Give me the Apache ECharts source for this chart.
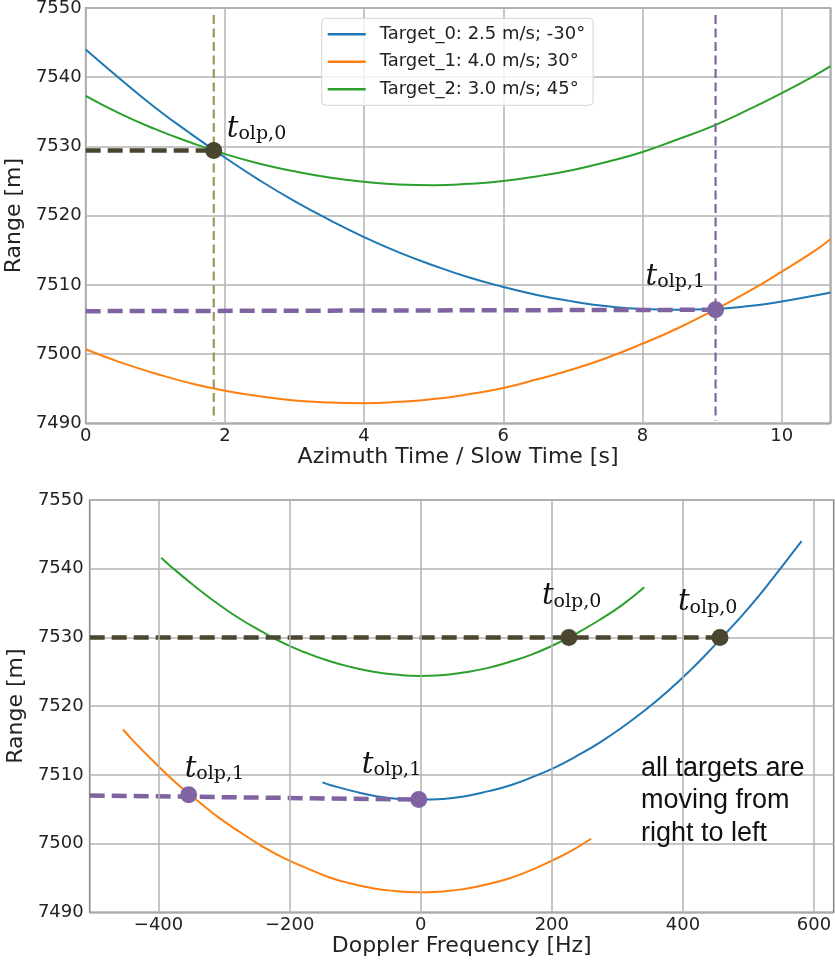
<!DOCTYPE html>
<html>
<head>
<meta charset="utf-8">
<script src="https://cdn.jsdelivr.net/npm/echarts@6/dist/echarts.min.js"></script>
<style>
html,body{margin:0;padding:0;background:#fff;}
#chart{width:835px;height:965px;}
</style>
</head>
<body>
<div id="chart"></div>
<script>
// ---------- data ----------
const tSamples = [0,0.5,1,1.5,2,2.5,3,3.5,4,4.5,5,5.5,6,6.5,7,7.5,8,8.5,9,9.5,10,10.5,10.7];
const range0 = [7544.0,7539.7,7535.6,7531.9,7528.4,7525.1,7522.1,7519.4,7516.9,7514.7,7512.8,7511.1,7509.7,7508.5,7507.6,7506.9,7506.5,7506.4,7506.5,7506.9,7507.6,7508.5,7508.9];
const range1 = [7500.7,7498.8,7497.2,7495.8,7494.7,7493.9,7493.3,7493.0,7492.9,7493.1,7493.5,7494.2,7495.1,7496.4,7497.8,7499.5,7501.5,7503.7,7506.2,7508.9,7511.9,7515.1,7516.6];
const range2 = [7537.3,7534.7,7532.5,7530.6,7528.9,7527.5,7526.4,7525.5,7524.9,7524.5,7524.4,7524.6,7525.0,7525.7,7526.6,7527.8,7529.2,7531.0,7532.9,7535.2,7537.7,7540.4,7541.6];
const doppler0 = [581,546,512,478,444,410,376,342,307,273,239,205,171,137,102,68,34,0,-34,-68,-102,-137,-150];
const doppler1 = [260,227,193,160,127,93,60,27,-7,-40,-73,-107,-140,-173,-207,-240,-273,-307,-340,-374,-407,-440,-454];
const doppler2 = [341,307,272,238,203,169,134,100,65,31,-3,-38,-72,-107,-141,-176,-210,-245,-279,-314,-348,-382,-396];
const seriesNames = ['Target_0: 2.5 m/s; -30°','Target_1: 4.0 m/s; 30°','Target_2: 3.0 m/s; 45°'];

// overlap points
const olpTopT = [1.84, 9.05];
const olpTopR = [7529.4, 7506.4];
const olpBotF = [226, 456.5, -354, -3];
const olpBotR = [7530.0, 7530.0, 7507.1, 7506.4];
const olpBotIdx = ['0','0','1','1'];
// guide lines
const topH0 = [[0,7529.4],[1.84,7529.4]];
const topV0 = [[1.84,7549.0],[1.84,7490.4]];
const topH1 = [[0,7506.2],[9.05,7506.4]];
const topV1 = [[9.05,7549.0],[9.05,7490.4]];
const botH0 = [[-505,7530.0],[456.5,7530.0]];
const botH1 = [[-505,7507.0],[-3,7506.4]];
// axis ranges / ticks
const topX = {min:0, max:10.7, step:2};
const botX = {min:-505, max:630};
const botXTicks = [-400,-200,0,200,400,600];
const yRange = {min:7490, max:7550, step:10};
const annotation = 'all targets are\nmoving from\nright to left';

// ---------- styles ----------
const colors = ['#1f77b4','#ff7f0e','#2ca02c'];
const darkOlive = '#4a452f';
const lightOlive = '#9e965d';
const purple = '#8064a2';
const gridColor = '#b3b3b3';
const font = 'DejaVu Sans';

const chart = echarts.init(document.getElementById('chart'), null, {renderer:'canvas'});

function fmtStep(step){
  return function(v){
    const r = v / step;
    if (Math.abs(r - Math.round(r)) > 1e-6) return '';
    return String(Math.round(v)).replace('-', '\u2212');
  };
}
function fmtPlain(v){ return String(Math.round(v)).replace('-', '\u2212'); }
const labelBase = {fontFamily:font, fontSize:18, color:'#222'};

const xTop = {
  gridIndex:0, type:'value', min:topX.min, max:topX.max, interval:topX.step,
  name:'Azimuth Time / Slow Time [s]', nameLocation:'middle', nameGap:23,
  nameTextStyle:{fontFamily:font, fontSize:22, color:'#222'},
  axisLine:{show:false}, axisTick:{show:false},
  axisLabel:Object.assign({formatter:fmtStep(topX.step), margin:4}, labelBase),
  splitLine:{show:true, lineStyle:{color:gridColor, width:1.5}}
};
const xBot = {
  gridIndex:1, type:'value', min:botX.min, max:botX.max,
  name:'Doppler Frequency [Hz]', nameLocation:'middle', nameGap:21,
  nameTextStyle:{fontFamily:font, fontSize:22, color:'#222'},
  axisLine:{show:false}, axisTick:{show:false},
  axisLabel:Object.assign({formatter:fmtPlain, margin:4, customValues:botXTicks}, labelBase),
  splitLine:{show:false}
};
function yAxisCfg(gi, gap, margin){
  return {
    gridIndex: gi, type:'value', min:yRange.min, max:yRange.max, interval:yRange.step,
    name:'Range [m]', nameLocation:'middle', nameGap: gap,
    nameTextStyle:{fontFamily:font, fontSize:22, color:'#222'},
    axisLine:{show:false}, axisTick:{show:false},
    axisLabel:Object.assign({formatter:fmtPlain, margin:margin}, labelBase),
    splitLine:{show:true, lineStyle:{color:gridColor, width:1.5}}
  };
}
const rich = {
  t:{fontFamily:'DejaVu Serif', fontStyle:'italic', fontSize:29, lineHeight:32, verticalAlign:'bottom', color:'#111'},
  s:{fontFamily:'DejaVu Serif', fontSize:19, lineHeight:10, verticalAlign:'bottom', color:'#111'}
};
function olpLabel(idx, off){
  return {show:true, position:'inside', align:'left', verticalAlign:'middle', offset:off,
          formatter:'{t|t}{s|olp,' + idx + '}', rich:rich};
}
function curve(name, data, color, xi){
  return {name:name, type:'line', xAxisIndex:xi, yAxisIndex:xi, data:data, showSymbol:false, symbol:'none',
          smooth:0.5, lineStyle:{color:color, width:2}, itemStyle:{color:color}, z:2, silent:true};
}
function guide(data, color, width, dash, xi){
  return {type:'line', xAxisIndex:xi, yAxisIndex:xi, data:data, symbol:'none', showSymbol:false,
          lineStyle:{color:color, width:width, type:dash, cap:'butt'}, z:3, silent:true};
}
const topRanges = [range0, range1, range2];
const botDoppler = [doppler0, doppler1, doppler2];

const series = [];
// vertical grid lines of the lower panel at its tick values
series.push({type:'line', xAxisIndex:1, yAxisIndex:1, data:[], silent:true, z:1,
  markLine:{silent:true, symbol:'none', label:{show:false}, animation:false,
    lineStyle:{color:gridColor, width:1.5, type:'solid'},
    data: botXTicks.map(v=>({xAxis:v}))}
});
topRanges.forEach((rg,k)=>{
  series.push(curve(seriesNames[k], tSamples.map((t,i)=>[t, rg[i]]), colors[k], 0));
});
topRanges.forEach((rg,k)=>{
  series.push(curve('doppler_' + k, botDoppler[k].map((f,i)=>[f, rg[i]]), colors[k], 1));
});
const thick = [15,7], thin = [9,4.5];
series.push(guide(topV0, lightOlive, 2.2, thin, 0));
series.push(guide(topV1, purple, 2.2, thin, 0));
series.push(guide(topH0, darkOlive, 4.5, thick, 0));
series.push(guide(topH1, purple, 4.5, thick, 0));
series.push(guide(botH0, darkOlive, 4.5, thick, 1));
series.push(guide(botH1, purple, 4.5, thick, 1));

const topOffsets = [[13,-23],[-70,-34]];
const topColors = [darkOlive, purple];
series.push({type:'scatter', xAxisIndex:0, yAxisIndex:0, symbolSize:17, z:6, silent:true,
  data: olpTopT.map((t,i)=>({value:[t, olpTopR[i]], itemStyle:{color:topColors[i], opacity:1}, label: olpLabel(String(i), topOffsets[i])}))
});
const botOffsets = [[-27,-42],[-42,-36],[-4,-27],[-57,-36]];
const botColors = [darkOlive, darkOlive, purple, purple];
series.push({type:'scatter', xAxisIndex:1, yAxisIndex:1, symbolSize:17, z:6, silent:true,
  data: olpBotF.map((f,i)=>({value:[f, olpBotR[i]], itemStyle:{color:botColors[i], opacity:1}, label: olpLabel(olpBotIdx[i], botOffsets[i])}))
});

const option = {
  animation:false,
  backgroundColor:'#fff',
  grid:[
    {left:85.7, top:8, width:744.7, height:415.3, show:true, borderColor:'#8a8a8a', borderWidth:1.6, containLabel:false, outerBoundsMode:'none'},
    {left:89.7, top:500, width:744, height:412.3, show:true, borderColor:'#8a8a8a', borderWidth:1.6, containLabel:false, outerBoundsMode:'none'}
  ],
  xAxis:[ xTop, xBot ],
  yAxis:[ yAxisCfg(0, 54, 4), yAxisCfg(1, 56, 6) ],
  legend:{
    data: seriesNames, left:321.7, top:18.3, orient:'vertical',
    icon:'rect', itemWidth:38, itemHeight:2.5, itemGap:7.5,
    padding:[6,8,6,6],
    backgroundColor:'rgba(255,255,255,0.8)', borderColor:'#d5d5d5', borderWidth:1, borderRadius:4,
    textStyle:{fontFamily:font, fontSize:18, color:'#222', lineHeight:20, padding:[0,0,0,9]},
    selectedMode:false
  },
  graphic:[{
    type:'text', left:641, top:752, silent:true, z:10,
    style:{text:annotation, font:'27px "Liberation Sans", Arial, sans-serif', fill:'#111', lineHeight:32.5}
  }],
  series: series
};
chart.setOption(option);
</script>
</body>
</html>
